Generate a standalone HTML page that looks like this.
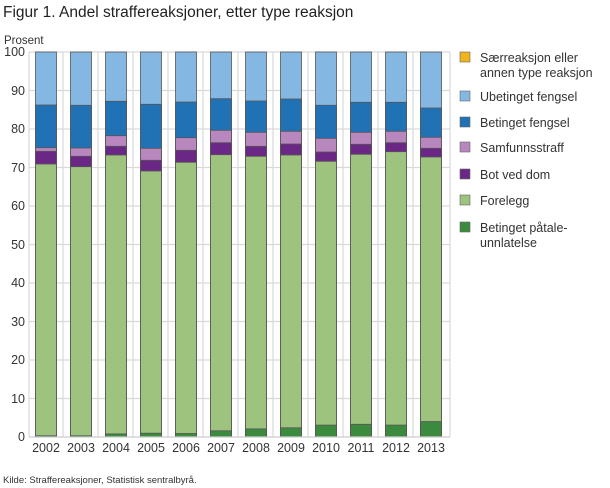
<!DOCTYPE html>
<html><head><meta charset="utf-8"><style>
body{margin:0;background:#fff;}
svg{display:block;font-family:"Liberation Sans",sans-serif;}
</style></head><body>
<svg width="610" height="488" viewBox="0 0 610 488">
<text x="3" y="17" font-size="15.5" fill="#222">Figur 1. Andel straffereaksjoner, etter type reaksjon</text>
<text x="4" y="44" font-size="11.5" fill="#333">Prosent</text>
<g stroke="#d9d9d9" stroke-width="1.2">
<line x1="29" y1="52" x2="450" y2="52"/><line x1="29" y1="90.5" x2="450" y2="90.5"/><line x1="29" y1="129" x2="450" y2="129"/><line x1="29" y1="167.5" x2="450" y2="167.5"/><line x1="29" y1="206" x2="450" y2="206"/><line x1="29" y1="244.5" x2="450" y2="244.5"/><line x1="29" y1="283" x2="450" y2="283"/><line x1="29" y1="321.5" x2="450" y2="321.5"/><line x1="29" y1="360" x2="450" y2="360"/><line x1="29" y1="398.5" x2="450" y2="398.5"/>
<line x1="29" y1="52" x2="29" y2="437"/><line x1="63" y1="52" x2="63" y2="437"/><line x1="98" y1="52" x2="98" y2="437"/><line x1="133" y1="52" x2="133" y2="437"/><line x1="168" y1="52" x2="168" y2="437"/><line x1="203" y1="52" x2="203" y2="437"/><line x1="238" y1="52" x2="238" y2="437"/><line x1="273" y1="52" x2="273" y2="437"/><line x1="308" y1="52" x2="308" y2="437"/><line x1="343" y1="52" x2="343" y2="437"/><line x1="378" y1="52" x2="378" y2="437"/><line x1="413" y1="52" x2="413" y2="437"/><line x1="450" y1="52" x2="450" y2="437"/>
</g>
<g font-size="12.5" fill="#333" text-anchor="end">
<text x="25" y="56">100</text><text x="25" y="95">90</text><text x="25" y="133">80</text><text x="25" y="172">70</text><text x="25" y="210">60</text><text x="25" y="249">50</text><text x="25" y="287">40</text><text x="25" y="326">30</text><text x="25" y="364">20</text><text x="25" y="403">10</text><text x="25" y="441">0</text>
</g>
<g stroke="#555" stroke-width="0.8">
<g id="b"></g>
<!-- bars: x, ub top 52, bet, samf, bot, green, dg -->
<g transform="translate(35.5,0)"><rect width="21" y="52" height="385" fill="#85b7e3"/><rect width="21" y="105" height="332" fill="#2171b5"/><rect width="21" y="147.7" height="289.3" fill="#b787bd"/><rect width="21" y="151.3" height="285.7" fill="#6b2785"/><rect width="21" y="164" height="273" fill="#9dc37e"/><rect width="21" y="435.8" height="1.2" fill="#3b8a3e"/></g>
<g transform="translate(70.5,0)"><rect width="21" y="52" height="385" fill="#85b7e3"/><rect width="21" y="105.3" height="331.7" fill="#2171b5"/><rect width="21" y="148" height="289" fill="#b787bd"/><rect width="21" y="156.3" height="280.7" fill="#6b2785"/><rect width="21" y="166.7" height="270.3" fill="#9dc37e"/><rect width="21" y="435.8" height="1.2" fill="#3b8a3e"/></g>
<g transform="translate(105.5,0)"><rect width="21" y="52" height="385" fill="#85b7e3"/><rect width="21" y="101.3" height="335.7" fill="#2171b5"/><rect width="21" y="135.7" height="301.3" fill="#b787bd"/><rect width="21" y="146.3" height="290.7" fill="#6b2785"/><rect width="21" y="155" height="282" fill="#9dc37e"/><rect width="21" y="433.9" height="3.1" fill="#3b8a3e"/></g>
<g transform="translate(140.5,0)"><rect width="21" y="52" height="385" fill="#85b7e3"/><rect width="21" y="104.3" height="332.7" fill="#2171b5"/><rect width="21" y="148.3" height="288.7" fill="#b787bd"/><rect width="21" y="160.3" height="276.7" fill="#6b2785"/><rect width="21" y="171" height="266" fill="#9dc37e"/><rect width="21" y="433.2" height="3.8" fill="#3b8a3e"/></g>
<g transform="translate(175.5,0)"><rect width="21" y="52" height="385" fill="#85b7e3"/><rect width="21" y="102" height="335" fill="#2171b5"/><rect width="21" y="137.7" height="299.3" fill="#b787bd"/><rect width="21" y="150.3" height="286.7" fill="#6b2785"/><rect width="21" y="162.3" height="274.7" fill="#9dc37e"/><rect width="21" y="433.5" height="3.5" fill="#3b8a3e"/></g>
<g transform="translate(210.5,0)"><rect width="21" y="52" height="385" fill="#85b7e3"/><rect width="21" y="98.7" height="338.3" fill="#2171b5"/><rect width="21" y="130.3" height="306.7" fill="#b787bd"/><rect width="21" y="142.7" height="294.3" fill="#6b2785"/><rect width="21" y="154.7" height="282.3" fill="#9dc37e"/><rect width="21" y="430.8" height="6.2" fill="#3b8a3e"/></g>
<g transform="translate(245.5,0)"><rect width="21" y="52" height="385" fill="#85b7e3"/><rect width="21" y="101" height="336" fill="#2171b5"/><rect width="21" y="132.3" height="304.7" fill="#b787bd"/><rect width="21" y="146.3" height="290.7" fill="#6b2785"/><rect width="21" y="156.3" height="280.7" fill="#9dc37e"/><rect width="21" y="428.9" height="8.1" fill="#3b8a3e"/></g>
<g transform="translate(280.5,0)"><rect width="21" y="52" height="385" fill="#85b7e3"/><rect width="21" y="99" height="338" fill="#2171b5"/><rect width="21" y="131.3" height="305.7" fill="#b787bd"/><rect width="21" y="144" height="293" fill="#6b2785"/><rect width="21" y="155" height="282" fill="#9dc37e"/><rect width="21" y="427.8" height="9.2" fill="#3b8a3e"/></g>
<g transform="translate(315.5,0)"><rect width="21" y="52" height="385" fill="#85b7e3"/><rect width="21" y="105.3" height="331.7" fill="#2171b5"/><rect width="21" y="138.3" height="298.7" fill="#b787bd"/><rect width="21" y="152" height="285" fill="#6b2785"/><rect width="21" y="161.3" height="275.7" fill="#9dc37e"/><rect width="21" y="425.1" height="11.9" fill="#3b8a3e"/></g>
<g transform="translate(350.5,0)"><rect width="21" y="52" height="385" fill="#85b7e3"/><rect width="21" y="102.3" height="334.7" fill="#2171b5"/><rect width="21" y="132.3" height="304.7" fill="#b787bd"/><rect width="21" y="144.3" height="292.7" fill="#6b2785"/><rect width="21" y="154.3" height="282.7" fill="#9dc37e"/><rect width="21" y="424.3" height="12.7" fill="#3b8a3e"/></g>
<g transform="translate(385.5,0)"><rect width="21" y="52" height="385" fill="#85b7e3"/><rect width="21" y="102.3" height="334.7" fill="#2171b5"/><rect width="21" y="131.3" height="305.7" fill="#b787bd"/><rect width="21" y="142.7" height="294.3" fill="#6b2785"/><rect width="21" y="151.7" height="285.3" fill="#9dc37e"/><rect width="21" y="425.1" height="11.9" fill="#3b8a3e"/></g>
<g transform="translate(420.5,0)"><rect width="21" y="52" height="385" fill="#85b7e3"/><rect width="21" y="108" height="329" fill="#2171b5"/><rect width="21" y="137.3" height="299.7" fill="#b787bd"/><rect width="21" y="148.3" height="288.7" fill="#6b2785"/><rect width="21" y="157" height="280" fill="#9dc37e"/><rect width="21" y="421.6" height="15.4" fill="#3b8a3e"/></g>
</g>
<line x1="29" y1="437" x2="450" y2="437" stroke="#ccc" stroke-width="1.2"/>
<g font-size="12.5" fill="#333" text-anchor="middle">
<text x="46" y="452">2002</text><text x="81" y="452">2003</text><text x="116" y="452">2004</text><text x="151" y="452">2005</text><text x="186" y="452">2006</text><text x="221" y="452">2007</text><text x="256" y="452">2008</text><text x="291" y="452">2009</text><text x="326" y="452">2010</text><text x="361" y="452">2011</text><text x="396" y="452">2012</text><text x="431" y="452">2013</text>
</g>
<g stroke="#666" stroke-width="0.6">
<rect x="460" y="52" width="10" height="10" fill="#f0b41c"/>
<rect x="460" y="91" width="10" height="10" fill="#85b7e3"/>
<rect x="460" y="117" width="10" height="10" fill="#2171b5"/>
<rect x="460" y="142" width="10" height="10" fill="#b787bd"/>
<rect x="460" y="169" width="10" height="10" fill="#6b2785"/>
<rect x="460" y="195" width="10" height="10" fill="#9dc37e"/>
<rect x="460" y="222" width="10" height="10" fill="#3b8a3e"/>
</g>
<g font-size="12.5" fill="#333">
<text x="480" y="62">Særreaksjon eller</text><text x="480" y="77">annen type reaksjon</text>
<text x="480" y="101">Ubetinget fengsel</text>
<text x="480" y="127">Betinget fengsel</text>
<text x="480" y="152">Samfunnsstraff</text>
<text x="480" y="179">Bot ved dom</text>
<text x="480" y="205">Forelegg</text>
<text x="480" y="232">Betinget påtale-</text><text x="480" y="247">unnlatelse</text>
</g>
<text x="3" y="483" font-size="9.5" fill="#333">Kilde: Straffereaksjoner, Statistisk sentralbyrå.</text>
</svg>
</body></html>
